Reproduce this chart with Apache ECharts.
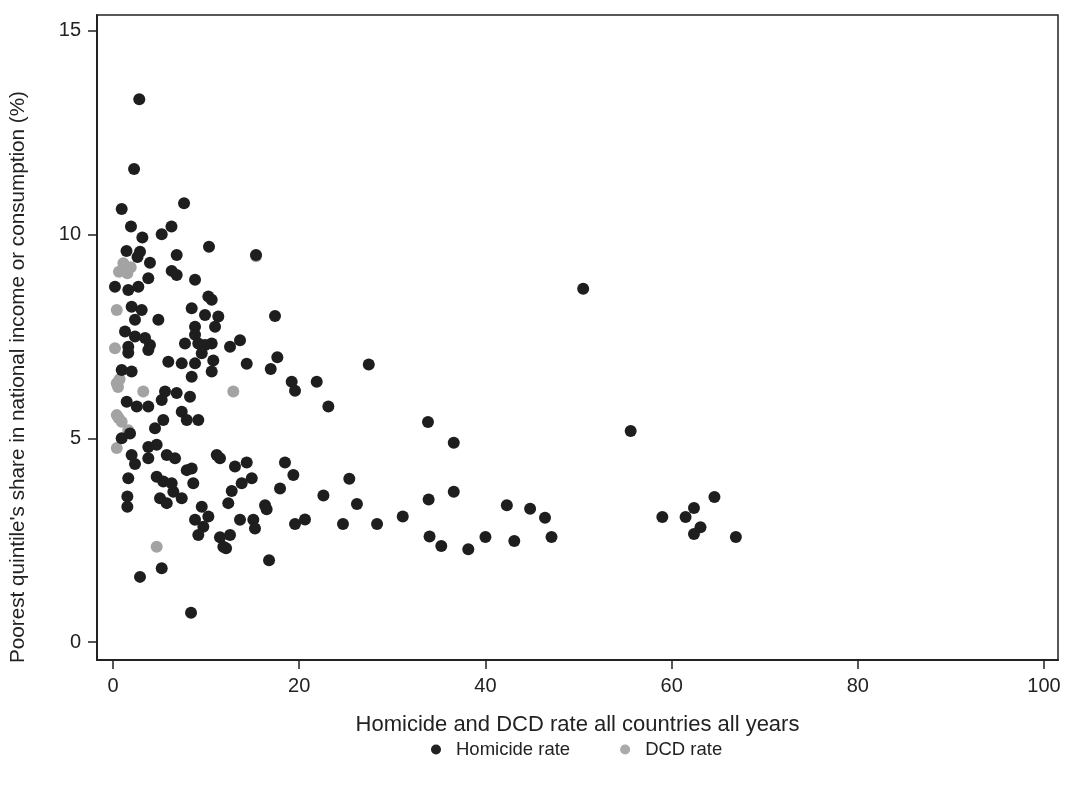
<!DOCTYPE html>
<html><head><meta charset="utf-8">
<script src="https://cdn.jsdelivr.net/npm/echarts@6/dist/echarts.min.js"></script>
<style>html,body{margin:0;padding:0;background:#fff}#c{width:1068px;height:785px}</style>
</head><body><div id="c"></div>
<script>
const xTicks = [0, 20, 40, 60, 80, 100];
const yTicks = [0, 5, 10, 15];
const xTitle = 'Homicide and DCD rate all countries all years';
const yTitle = "Poorest quintile's share in national income or consumption (%)";
const homicide = [
[2.82,13.32],[2.26,11.61],[0.93,10.63],[7.63,10.77],[1.93,10.2],[6.28,10.2],[5.23,10.01],[3.15,9.93],[10.31,9.70],[15.36,9.50],[6.84,9.50],[1.45,9.60],[2.9,9.58],[2.63,9.45],[3.97,9.31],[3.79,8.93],[6.3,9.11],[6.84,9.01],[8.81,8.89],[0.21,8.72],[1.64,8.64],[2.72,8.72],[10.24,8.48],[2.0,8.23],[3.08,8.15],[8.45,8.19],[9.88,8.03],[4.87,7.91],[2.36,7.91],[11.31,7.99],[10.6,8.40],[8.81,7.74],[10.96,7.74],[1.29,7.62],[2.36,7.5],[8.81,7.54],[3.44,7.46],[7.73,7.33],[9.16,7.33],[10.6,7.33],[1.64,7.25],[3.97,7.29],[13.64,7.41],[12.57,7.25],[1.64,7.1],[3.79,7.17],[9.88,7.29],[9.53,7.09],[10.77,6.91],[14.36,6.83],[17.65,6.99],[16.94,6.70],[5.94,6.88],[7.38,6.84],[8.81,6.84],[10.6,6.64],[0.93,6.68],[2.0,6.64],[8.45,6.51],[5.59,6.15],[6.84,6.11],[8.27,6.02],[1.47,5.9],[2.55,5.78],[3.79,5.78],[5.23,5.94],[19.19,6.39],[19.55,6.17],[21.88,6.39],[23.13,5.78],[5.4,5.45],[4.51,5.25],[7.38,5.65],[7.92,5.45],[9.16,5.45],[1.83,5.12],[0.93,5.0],[3.79,4.79],[4.69,4.84],[2.0,4.59],[5.77,4.59],[6.66,4.51],[3.79,4.51],[11.14,4.59],[11.49,4.51],[8.45,4.26],[2.36,4.37],[13.1,4.31],[14.36,4.41],[18.47,4.41],[7.92,4.22],[19.37,4.10],[1.64,4.02],[4.69,4.06],[5.4,3.94],[6.3,3.90],[8.62,3.90],[14.9,4.02],[13.82,3.9],[12.75,3.71],[6.48,3.69],[17.94,3.77],[22.6,3.6],[7.38,3.53],[5.05,3.53],[5.77,3.41],[1.54,3.57],[1.54,3.32],[9.53,3.32],[12.38,3.41],[16.33,3.36],[16.5,3.26],[10.24,3.08],[8.81,3.0],[13.64,3.0],[15.07,3.0],[15.25,2.79],[9.7,2.83],[9.16,2.63],[11.49,2.57],[12.57,2.63],[11.85,2.34],[12.14,2.30],[16.76,2.01],[19.55,2.9],[20.62,3.01],[5.23,1.81],[2.9,1.6],[8.38,0.72],[17.4,8.0],[27.47,6.81],[25.38,4.01],[26.2,3.39],[24.7,2.9],[28.36,2.9],[31.12,3.08],[33.83,5.40],[36.6,4.89],[36.6,3.69],[33.9,3.5],[34.0,2.59],[35.26,2.36],[38.16,2.28],[40.0,2.58],[43.1,2.48],[42.3,3.36],[44.8,3.27],[46.4,3.05],[47.1,2.58],[50.5,8.67],[55.6,5.18],[59.0,3.07],[61.5,3.07],[62.4,3.29],[63.1,2.82],[62.4,2.65],[64.6,3.56],[66.9,2.58]
];
const dcd = [
[1.11,9.30],[1.54,9.05],[0.64,9.09],[1.9,9.2],[0.4,8.15],[0.21,7.21],[0.4,6.35],[0.54,6.26],[0.7,6.45],[3.25,6.15],[0.4,5.57],[0.93,5.41],[0.6,5.5],[1.64,5.2],[0.4,4.76],[4.69,2.34],[12.92,6.15],[15.36,9.47]
];
const chart = echarts.init(document.getElementById('c'));
const font = 'Liberation Sans, Arial, sans-serif';
chart.setOption({
  animation: false,
  backgroundColor: '#fff',
  grid: { left: 97, right: 10, top: 15, bottom: 125, show: true, borderColor: '#222', borderWidth: 1.5 },
  legend: {
    left: 426, top: 735, itemWidth: 10, itemHeight: 10, itemGap: 50,
    textStyle: { fontFamily: font, fontSize: 18.5, color: '#222', padding: [0, 0, 0, 10] },
    data: [
      { name: 'Homicide rate', icon: 'circle', itemStyle: { color: '#222' } },
      { name: 'DCD rate', icon: 'circle', itemStyle: { color: '#aaa' } }
    ]
  },
  graphic: [{
    type: 'text', x: 18, y: 377, rotation: Math.PI / 2,
    style: { text: yTitle, fontFamily: font, fontSize: 20.7, fill: '#222', align: 'center', verticalAlign: 'middle' }
  }],
  xAxis: {
    type: 'value', min: -1.72, max: 101.5,
    name: xTitle, nameLocation: 'middle', nameGap: 54,
    nameTextStyle: { fontFamily: font, fontSize: 22, color: '#222' },
    axisLine: { show: true, onZero: false, lineStyle: { color: '#222', width: 2 } },
    axisTick: { show: true, length: 9, customValues: xTicks, lineStyle: { color: '#222', width: 1.5 } },
    axisLabel: { customValues: xTicks, margin: 16, fontFamily: font, fontSize: 20, color: '#222' },
    splitLine: { show: false }
  },
  yAxis: {
    type: 'value', min: -0.44, max: 15.39,
    axisLine: { show: true, onZero: false, lineStyle: { color: '#222', width: 2 } },
    axisTick: { show: true, length: 9, customValues: yTicks, lineStyle: { color: '#222', width: 1.5 } },
    axisLabel: { customValues: yTicks, margin: 16, fontFamily: font, fontSize: 20, color: '#222' },
    splitLine: { show: false }
  },
  series: [
    { name: 'DCD rate', type: 'scatter', data: dcd, symbolSize: 12, z: 1,
      itemStyle: { color: '#a3a3a3', opacity: 1 } },
    { name: 'Homicide rate', type: 'scatter', data: homicide, symbolSize: 12, z: 2,
      itemStyle: { color: '#1e1e1e', opacity: 1 } }
  ]
});
</script></body></html>
